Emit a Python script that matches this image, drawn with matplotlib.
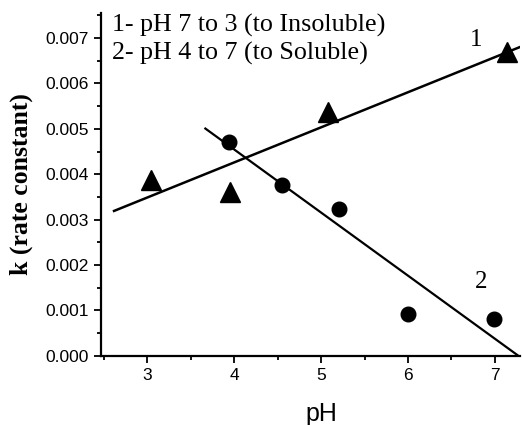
import matplotlib
matplotlib.use("Agg")
import matplotlib.pyplot as plt
import numpy as np
from matplotlib.ticker import MultipleLocator, FormatStrFormatter

# series 1: pH 7 to 3 (to insoluble), triangles
ph_1 = [3.05, 3.95, 5.08, 7.14]
k_1 = [0.00387, 0.00360, 0.00537, 0.00669]
# series 2: pH 4 to 7 (to soluble), circles
ph_2 = [3.94, 4.55, 5.21, 6.00, 6.99]
k_2 = [0.00471, 0.00376, 0.00323, 0.00092, 0.00081]

# ranges over which the fitted lines are drawn
fit_range_1 = [2.62, 7.32]
fit_range_2 = [3.67, 7.27]

legend_lines = ["1- pH 7 to 3 (to Insoluble)", "2- pH 4 to 7 (to Soluble)"]

fig = plt.figure(figsize=(5.22, 4.25), dpi=100)
ax = fig.add_axes([0.1935, 0.163, 0.803, 0.806])

m1, b1 = np.polyfit(ph_1, k_1, 1)
m2, b2 = np.polyfit(ph_2, k_2, 1)
x1 = np.array(fit_range_1)
x2 = np.array(fit_range_2)
ax.plot(x1, m1 * x1 + b1, color="black", lw=1.8)
ax.plot(x2, m2 * x2 + b2, color="black", lw=1.6)

ax.plot(ph_1, k_1, linestyle="none", marker="^", ms=14, color="black")
ax.plot(ph_2, k_2, linestyle="none", marker="o", ms=10.5, color="black")

ax.set_xlim(2.47, 7.29)
ax.set_ylim(0, 0.00755)

ax.spines["top"].set_visible(False)
ax.spines["right"].set_visible(False)
for s in ("left", "bottom"):
    ax.spines[s].set_linewidth(1.6)

ax.xaxis.set_major_locator(MultipleLocator(1))
ax.xaxis.set_minor_locator(MultipleLocator(0.5))
ax.yaxis.set_major_locator(MultipleLocator(0.001))
ax.yaxis.set_minor_locator(MultipleLocator(0.0005))
ax.yaxis.set_major_formatter(FormatStrFormatter("%.3f"))
ax.tick_params(which="major", direction="out", length=5, width=1.3,
               labelsize=12.5)
ax.tick_params(which="minor", direction="out", length=3, width=1.3)
for lab in ax.get_xticklabels() + ax.get_yticklabels():
    lab.set_fontfamily("Liberation Sans")

ax.set_xlabel("pH", fontsize=18, family="Liberation Sans")
ax.xaxis.set_label_coords(0.525, -0.135)
ax.set_ylabel("k (rate constant)", fontsize=18.5, family="Liberation Serif",
              fontweight="bold")
ax.yaxis.set_label_coords(-0.163, 0.5)

ax.text(0.026, 0.963, legend_lines[0], transform=ax.transAxes, fontsize=18.7,
        family="Liberation Serif", va="center", ha="left")
ax.text(0.026, 0.881, legend_lines[1], transform=ax.transAxes, fontsize=18.7,
        family="Liberation Serif", va="center", ha="left")

ax.text(6.78, 0.00695, "1", fontsize=18, family="Liberation Serif",
        ha="center", va="center")
ax.text(6.84, 0.00162, "2", fontsize=18, family="Liberation Serif",
        ha="center", va="center")

fig.savefig("out.png", dpi=100)
